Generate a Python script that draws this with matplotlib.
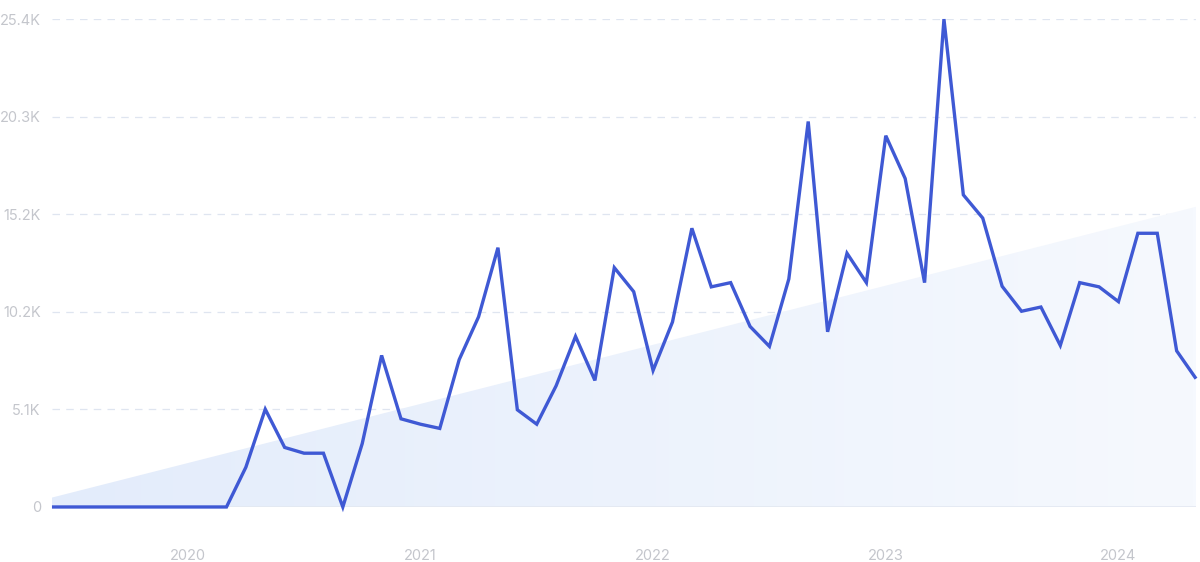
import numpy as np
import matplotlib.pyplot as plt
from matplotlib.colors import LinearSegmentedColormap

plt.rcParams['font.family'] = ['Inter', 'DejaVu Sans']

# monthly values, Jun 2019 .. May 2024
values = [0, 0, 0, 0, 0, 0, 0, 0, 0, 0,
          2070, 5090, 3100, 2800, 2800, 0, 3300, 7890, 4590, 4310,
          4090, 7670, 9900, 13500, 5060, 4310, 6310, 8880, 6590, 12460,
          11210, 7110, 9630, 14510, 11460, 11680, 9400, 8360, 11870, 20070,
          9120, 13210, 11680, 19330, 17100, 11680, 25400, 16250, 15040, 11490,
          10190, 10410, 8410, 11680, 11460, 10690, 14250, 14250, 8130, 6680]
trend = [490, 15630]  # trend line at first and last month
year_labels = ['2020', '2021', '2022', '2023', '2024']
year_index = [7, 19, 31, 43, 55]
y_ticks = [0, 5080, 10160, 15240, 20320, 25400]
y_labels = ['0', '5.1K', '10.2K', '15.2K', '20.3K', '25.4K']

x = np.arange(len(values))
fig = plt.figure(figsize=(12, 5.62), dpi=100)
ax = fig.add_axes([0.0433, 0.0979, 0.9534, 0.8681])

# trend area with a soft horizontal gradient
xt = [x[0], x[-1]]
poly = ax.fill_between(xt, [0, 0], trend, color='none', lw=0)
cmap = LinearSegmentedColormap.from_list('fade', ['#e3ecfb', '#f6f9fe'])
grad = np.linspace(0, 1, 256).reshape(1, -1)
img = ax.imshow(grad, cmap=cmap, aspect='auto', extent=[x[0], x[-1], 0, max(trend)],
                origin='lower', zorder=1)
img.set_clip_path(poly.get_paths()[0], transform=ax.transData)

ax.plot(x, values, color='#3f59d4', lw=2.4, zorder=3, clip_on=False,
        solid_joinstyle='miter', solid_capstyle='butt')

ax.set_xlim(0, len(values) - 1)
ax.set_ylim(0, 25400)
ax.set_yticks(y_ticks)
ax.set_yticklabels(y_labels)
ax.set_xticks(year_index)
ax.set_xticklabels(year_labels)
for t in y_ticks[1:]:
    ax.axhline(t, color='#dfe5f0', lw=0.9, ls=(0, (6, 5)), zorder=0)
ax.axhline(0, color='#e3e8f1', lw=1.2, zorder=2)

for s in ax.spines.values():
    s.set_visible(False)
ax.tick_params(axis='both', length=0, labelsize=10.5, colors='#c4c6cc')
ax.tick_params(axis='y', pad=8)
ax.tick_params(axis='x', pad=30)

fig.savefig('out.png', dpi=100)
